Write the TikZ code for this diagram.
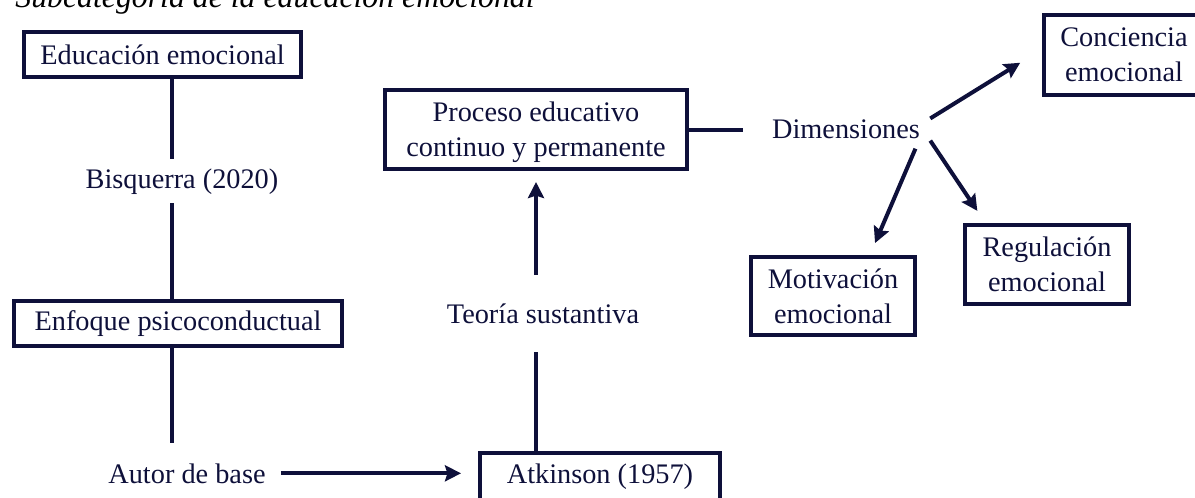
\documentclass[tikz,border=0pt]{standalone}
\usepackage{fontspec}
\setmainfont{Liberation Serif}
\usetikzlibrary{arrows.meta}
\definecolor{navy}{RGB}{14,16,58}
\tikzset{
  box/.style={draw=navy, line width=2pt, text=navy, align=center, inner sep=0pt},
  lbl/.style={text=navy, inner sep=0pt},
  ttl/.style={text=black, inner sep=0pt, font=\fontsize{15.9pt}{19pt}\selectfont\itshape},
  link/.style={draw=navy, line width=2pt},
  arr/.style={link, -{Stealth[length=8pt,width=8pt,inset=1.2pt]}}
}

\begin{document}
\begin{tikzpicture}[x=0.5pt, y=-0.5pt, font=\fontsize{14.15pt}{17.5pt}\selectfont]
\useasboundingbox (0,0) rectangle (1195,498);
\clip (0,0) rectangle (1195,498);
% title
\node[ttl, anchor=base west] (title) at (15,8) {Subcategoría de la educación emocional};
% boxes
\node[box, minimum width=138.5pt, minimum height=22.5pt] (educ) at (162.5,54.5) {Educación emocional};
\node[box, minimum width=164pt, minimum height=22.5pt] (enf) at (178,323.5) {Enfoque psicoconductual};
\node[box, minimum width=120pt, minimum height=23.5pt] (atk) at (600,476.5) {Atkinson (1957)};
\node[box, minimum width=151pt, minimum height=39.5pt] (proc) at (536,129.5) {\rule{0pt}{13pt}Proceso educativo\\continuo y permanente};
\node[box, minimum width=80pt, minimum height=40pt] (conc) at (1124,55) {Conciencia\\emocional};
\node[box, minimum width=82pt, minimum height=39.5pt] (reg) at (1047,264.5) {Regulación\\emocional};
\node[box, minimum width=82pt, minimum height=39pt] (mot) at (833,296) {Motivación\\emocional};
% labels
\node[lbl, inner ysep=4.5pt, anchor=base] (bisq) at (182,188) {Bisquerra (2020)};
\node[lbl, inner ysep=14pt, anchor=base] (teo) at (543,323) {Teoría sustantiva};
\node[lbl, inner xsep=7.5pt, inner ysep=10pt, anchor=base] (autor) at (187,483) {Autor de base};
\node[lbl, inner sep=5pt, anchor=base] (dim) at (846,138) {Dimensiones};
\coordinate (trunk) at (172,0);
% links
\draw[link] (educ.south -| trunk) -- (bisq.north -| trunk);
\draw[link] (bisq.south -| trunk) -- (enf.north -| trunk);
\draw[link] (enf.south -| trunk) -- (autor.north -| trunk);
\draw[arr, shorten >=8.5pt] (autor.east) -- (autor.east -| atk.west);
\draw[link] (atk.north -| proc) -- (teo.south -| proc);
\draw[arr, shorten >=5.5pt] (teo.north -| proc) -- (proc.south);
\draw[link, shorten >=9.5pt] (proc.east) -- (proc.east -| dim.west);
% dimensiones
\draw[arr, shorten >=12.8pt] (dim.7) -- (conc.176);
\draw[arr, shorten >=7.3pt] (dim.-8) -- (reg.146);
\draw[arr, shorten >=6.5pt] (dim.-16) -- (mot.48);
\end{tikzpicture}
\end{document}
